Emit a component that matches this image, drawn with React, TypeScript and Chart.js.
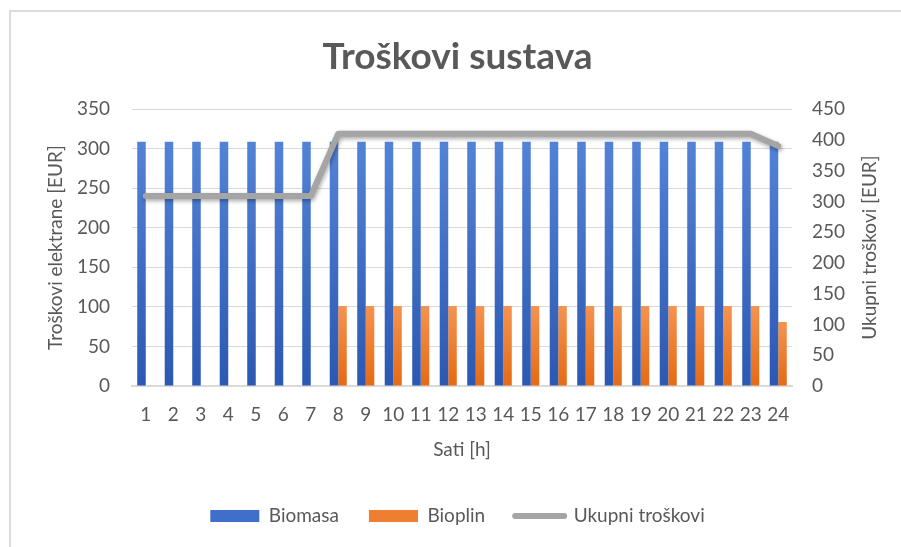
import React, { useEffect, useRef } from "react";
import { Chart, registerables } from "chart.js";

Chart.register(...registerables);

const hours = ["1","2","3","4","5","6","7","8","9","10","11","12","13","14","15","16","17","18","19","20","21","22","23","24"];
const biomasa = [309,309,309,309,309,309,309,309,309,309,309,309,309,309,309,309,309,309,309,309,309,309,309,309];
const bioplin = [0,0,0,0,0,0,0,101,101,101,101,101,101,101,101,101,101,101,101,101,101,101,101,81];
const ukupniTroskovi = [309,309,309,309,309,309,309,410,410,410,410,410,410,410,410,410,410,410,410,410,410,410,410,390];

const leftTicks = [0, 50, 100, 150, 200, 250, 300, 350];
const rightTicks = [0, 50, 100, 150, 200, 250, 300, 350, 400, 450];

const TEXT = "#595959";
const FONT = "Lato";
const FS = 19;
const RIGHT_TITLE = "Ukupni troškovi [EUR]";

function barGradient(top: string, bottom: string, fallback: string) {
  return (ctx: any) => {
    const chart = ctx.chart;
    const y = chart.scales && chart.scales.y;
    if (!chart.chartArea || !y || ctx.type !== "data") return fallback;
    const v = ctx.raw as number;
    const yTop = y.getPixelForValue(v);
    const yBot = y.getPixelForValue(0);
    if (!isFinite(yTop) || !isFinite(yBot) || yTop === yBot) return fallback;
    const g = chart.ctx.createLinearGradient(0, yTop, 0, yBot);
    g.addColorStop(0, top);
    g.addColorStop(1, bottom);
    return g;
  };
}

const lineShadow = {
  id: "lineShadow",
  beforeDatasetDraw(chart: any, args: any) {
    if (args.meta.type === "line") {
      const c = chart.ctx;
      c.save();
      c.shadowColor = "rgba(0,0,0,0.35)";
      c.shadowBlur = 4;
      c.shadowOffsetX = 1;
      c.shadowOffsetY = 2;
    }
  },
  afterDatasetDraw(chart: any, args: any) {
    if (args.meta.type === "line") chart.ctx.restore();
  },
};

const rightTitle = {
  id: "rightTitle",
  afterDraw(chart: any) {
    const c = chart.ctx;
    const a = chart.chartArea;
    c.save();
    c.translate(870, (a.top + a.bottom) / 2);
    c.rotate(-Math.PI / 2);
    c.fillStyle = TEXT;
    c.font = `${FS}px ${FONT}`;
    c.textAlign = "center";
    c.textBaseline = "middle";
    c.fillText(RIGHT_TITLE, 0, 0);
    c.restore();
  },
};

export default function App() {
  const ref = useRef<HTMLCanvasElement>(null);
  useEffect(() => {
    if (!ref.current) return;
    const chart = new Chart(ref.current, {
      type: "bar",
      data: {
        labels: hours,
        datasets: [
          {
            type: "bar",
            label: "Biomasa",
            data: biomasa,
            yAxisID: "y",
            backgroundColor: barGradient("#5383d6", "#2b58b2", "#4472c4") as any,
            borderWidth: 0,
            categoryPercentage: 0.62,
            barPercentage: 1,
            order: 1,
          },
          {
            type: "bar",
            label: "Bioplin",
            data: bioplin,
            yAxisID: "y",
            backgroundColor: barGradient("#f5934f", "#e56a14", "#ed7d31") as any,
            borderWidth: 0,
            categoryPercentage: 0.62,
            barPercentage: 1,
            order: 1,
          },
          {
            type: "line",
            label: "Ukupni troškovi",
            data: ukupniTroskovi,
            yAxisID: "y1",
            borderColor: "#a5a5a5",
            backgroundColor: "#a5a5a5",
            borderWidth: 6,
            pointRadius: 0,
            tension: 0,
            borderCapStyle: "round",
            borderJoinStyle: "round",
            order: 0,
          } as any,
        ],
      },
      options: {
        responsive: false,
        animation: false,
        devicePixelRatio: 1,
        layout: { padding: { left: 14, right: 0, top: 0, bottom: 11.5 } },
        plugins: {
          tooltip: { enabled: false },
          title: {
            display: true,
            text: "Troškovi sustava",
            color: TEXT,
            font: { family: FONT, size: 37, weight: "bold" },
            padding: { top: 34.8, bottom: 30.0 },
          },
          legend: {
            position: "bottom",
            labels: {
              color: TEXT,
              font: { family: FONT, size: FS },
              padding: 30,
              usePointStyle: true,
              pointStyleWidth: 49,
              boxHeight: 12,
              generateLabels: (ch: any) =>
                ch.data.datasets.map((ds: any, i: number) => {
                  const isLine = ds.type === "line";
                  return {
                    text: ds.label,
                    datasetIndex: i,
                    fillStyle: isLine ? "#a5a5a5" : i === 0 ? "#3f6fc8" : "#ef7f30",
                    strokeStyle: isLine ? "#a5a5a5" : "rgba(0,0,0,0)",
                    lineWidth: isLine ? 6 : 0,
                    lineCap: "round",
                    pointStyle: isLine ? "line" : "rect",
                    fontColor: TEXT,
                    hidden: false,
                  };
                }),
            },
          },
        },
        scales: {
          x: {
            offset: true,
            grid: { display: false, drawTicks: false },
            border: { display: true, color: "#d9d9d9", width: 2 },
            ticks: { color: TEXT, font: { family: FONT, size: FS }, padding: 17, maxRotation: 0, autoSkip: false },
            title: {
              display: true,
              text: "Sati [h]",
              color: TEXT,
              font: { family: FONT, size: FS },
              padding: { top: 0, bottom: 15 },
            },
            afterFit: (s: any) => { s.height = 90.5; },
          },
          y: {
            position: "left",
            min: 0,
            max: 350,
            afterBuildTicks: (s: any) => { s.ticks = leftTicks.map((v) => ({ value: v })); },
            grid: { color: "#d9d9d9", lineWidth: 1, drawTicks: false },
            border: { display: false },
            ticks: { color: TEXT, font: { family: FONT, size: FS }, padding: 22 },
            title: {
              display: true,
              text: "Troškovi elektrane [EUR]",
              color: TEXT,
              font: { family: FONT, size: FS },
              padding: { top: 30, bottom: 0 },
            },
            afterFit: (s: any) => { s.width = 118; },
          },
          y1: {
            position: "right",
            min: 0,
            max: 450,
            afterBuildTicks: (s: any) => { s.ticks = rightTicks.map((v) => ({ value: v })); },
            grid: { display: false, drawTicks: false },
            border: { display: false },
            ticks: { color: TEXT, font: { family: FONT, size: FS }, padding: 20 },
            title: { display: false },
            afterFit: (s: any) => { s.width = 109; },
          },
        },
      },
      plugins: [lineShadow, rightTitle],
    });
    return () => chart.destroy();
  }, []);

  return (
    <div style={{ position: "absolute", left: 0, top: 0, width: 901, height: 547, overflow: "hidden", background: "#fff" }}>
      <div style={{ position: "absolute", left: 9, top: 10, width: 2000, height: 2000, borderLeft: "2px solid #dcdcdc", borderTop: "2px solid #dcdcdc" }} />
      <canvas ref={ref} width={901} height={547} style={{ position: "absolute", left: 0, top: 0, width: 901, height: 547 }} />
    </div>
  );
}
